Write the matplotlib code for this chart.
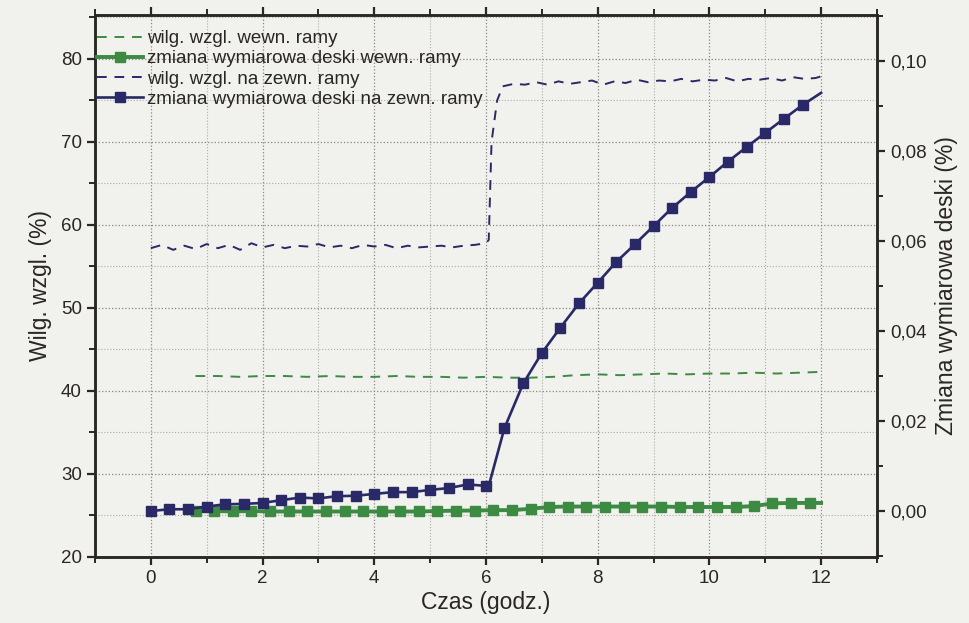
import numpy as np
import matplotlib
matplotlib.use('Agg')
import matplotlib.pyplot as plt
from matplotlib.ticker import MultipleLocator, FuncFormatter

# wilg. wzgl. na zewn. ramy (left axis, %)
t_rh_zew = list(np.round(np.arange(0, 6.01, 0.2), 2)) + [6.05, 6.1, 6.2] + \
    list(np.round(np.arange(6.3, 11.95, 0.2), 2)) + [12.0]
rh_zew = [57.2, 57.6, 57.0, 57.5, 57.1, 57.7, 57.2, 57.6, 57.0, 57.8, 57.3,
          57.6, 57.2, 57.5, 57.4, 57.7, 57.3, 57.5, 57.2, 57.6, 57.4, 57.6,
          57.2, 57.5, 57.3, 57.4, 57.5, 57.3, 57.5, 57.6, 57.8,
          58.2, 70.0, 75.0,
          76.7, 77.0, 76.9, 77.2, 76.9, 77.3, 77.0, 77.2, 77.4, 76.9, 77.3,
          77.1, 77.5, 77.2, 77.4, 77.3, 77.6, 77.3, 77.5, 77.4, 77.7, 77.3,
          77.6, 77.5, 77.7, 77.4, 77.8, 77.6, 77.7,
          77.9]

# wilg. wzgl. wewn. ramy (left axis, %)
t_rh_wew = list(np.round(np.arange(0.8, 12.01, 0.4), 2))
rh_wew = [41.8, 41.8, 41.7, 41.8, 41.8, 41.7, 41.8, 41.7, 41.7, 41.8, 41.7,
          41.7, 41.6, 41.7, 41.6, 41.6, 41.7, 41.9, 42.0, 41.9, 42.0, 42.1,
          42.0, 42.1, 42.1, 42.2, 42.1, 42.2, 42.3]

# zmiana wymiarowa deski na zewn. ramy (right axis, %)
t_d_zew = [0, 0.33, 0.67, 1.0, 1.33, 1.67, 2.0, 2.33, 2.67, 3.0, 3.33, 3.67,
           4.0, 4.33, 4.67, 5.0, 5.33, 5.67, 6.0, 6.07,
           6.33, 6.67, 7.0, 7.33, 7.67, 8.0, 8.33, 8.67, 9.0, 9.33, 9.67,
           10.0, 10.33, 10.67, 11.0, 11.33, 11.67, 12.0]
d_zew = [0.0000, 0.0004, 0.0004, 0.0010, 0.0015, 0.0016, 0.0018, 0.0024,
         0.0030, 0.0028, 0.0033, 0.0034, 0.0038, 0.0042, 0.0042, 0.0047,
         0.0051, 0.0059, 0.0056, 0.0065,
         0.0184, 0.0284, 0.0351, 0.0407, 0.0462, 0.0507, 0.0553, 0.0593,
         0.0633, 0.0673, 0.0709, 0.0742, 0.0776, 0.0809, 0.0840, 0.0871,
         0.0902, 0.0929]

# zmiana wymiarowa deski wewn. ramy (right axis, %)
t_d_wew = [0.8, 1.13, 1.47, 1.8, 2.13, 2.47, 2.8, 3.13, 3.47, 3.8, 4.13,
           4.47, 4.8, 5.13, 5.47, 5.8, 6.13, 6.47, 6.8, 7.13, 7.47, 7.8,
           8.13, 8.47, 8.8, 9.13, 9.47, 9.8, 10.13, 10.47, 10.8, 11.13,
           11.47, 11.8, 12.0]
d_wew = [0.0000, 0.0000, -0.0001, 0.0000, -0.0001, -0.0001, -0.0001,
         -0.0001, -0.0001, -0.0001, -0.0001, -0.0001, -0.0001, 0.0000,
         0.0001, 0.0001, 0.0002, 0.0002, 0.0005, 0.0009, 0.0010, 0.0010,
         0.0010, 0.0010, 0.0010, 0.0010, 0.0009, 0.0009, 0.0009, 0.0009,
         0.0011, 0.0017, 0.0018, 0.0018, 0.0018]

BLUE = '#2a2968'
GREEN = '#3d8a42'
BG = '#f1f1ed'
INK = '#2a2622'

plt.rcParams['font.family'] = ['Liberation Sans', 'DejaVu Sans']

fig = plt.figure(figsize=(9.69, 6.23), dpi=100, facecolor=BG)
ax = fig.add_axes([0.098, 0.106, 0.807, 0.870], facecolor=BG)
ax2 = ax.twinx()

l1, = ax.plot(t_rh_wew, rh_wew, color=GREEN, lw=1.4, dashes=(5, 4),
              label='wilg. wzgl. wewn. ramy')
l3, = ax.plot(t_rh_zew, rh_zew, color=BLUE, lw=1.4, dashes=(5, 4),
              label='wilg. wzgl. na zewn. ramy')

l2, = ax2.plot(t_d_wew, d_wew, color=GREEN, lw=2.8, marker='s', ms=7,
               markevery=list(range(len(t_d_wew) - 1)),
               label='zmiana wymiarowa deski wewn. ramy')
mk = [i for i in range(len(t_d_zew) - 1) if t_d_zew[i] != 6.07]
l4, = ax2.plot(t_d_zew, d_zew, color=BLUE, lw=1.9, marker='s', ms=7,
               markevery=mk, label='zmiana wymiarowa deski na zewn. ramy')

ax.set_xlim(-1, 13)
ax.set_ylim(20, 85.3)
ax2.set_ylim(-0.0102, 0.1102)

ax.xaxis.set_major_locator(MultipleLocator(2))
ax.xaxis.set_minor_locator(MultipleLocator(1))
ax.yaxis.set_major_locator(MultipleLocator(10))
ax.yaxis.set_minor_locator(MultipleLocator(5))
ax2.yaxis.set_major_locator(MultipleLocator(0.02))
ax2.yaxis.set_minor_locator(MultipleLocator(0.01))
ax2.yaxis.set_major_formatter(FuncFormatter(lambda v, p: ('%.2f' % v).replace('.', ',')))

ax.grid(True, which='major', axis='both', ls=':', color='#8a8580', lw=0.9)
ax.grid(True, which='minor', axis='both', ls=':', color='#b0aca6', lw=0.8)
ax.set_axisbelow(True)

for a in (ax, ax2):
    for s in a.spines.values():
        s.set_linewidth(1.8)
        s.set_color(INK)
ax.tick_params(axis='both', which='major', direction='out', length=6,
               width=1.6, color=INK, labelsize=13.5, labelcolor=INK, top=True)
ax.tick_params(axis='both', which='minor', direction='out', length=4,
               width=1.4, color=INK, top=True)
ax2.tick_params(axis='y', which='major', direction='out', length=6,
                width=1.6, color=INK, labelsize=13.5, labelcolor=INK)
ax2.tick_params(axis='y', which='minor', direction='out', length=4,
                width=1.4, color=INK)

ax.set_xlabel('Czas (godz.)', fontsize=16.5, color=INK, labelpad=3)
ax.set_ylabel('Wilg. wzgl. (%)', fontsize=16.5, color=INK, labelpad=6)
ax2.set_ylabel('Zmiana wymiarowa deski (%)', fontsize=16.5, color=INK,
               labelpad=6)

lgd = ax2.legend(handles=[l1, l2, l3, l4], loc='upper left', frameon=False,
                 fontsize=13.5, handlelength=2.45, handletextpad=0.2,
                 labelspacing=0.16, borderaxespad=0, borderpad=0,
                 bbox_to_anchor=(0.003, 0.972))
for t in lgd.get_texts():
    t.set_color(INK)

fig.savefig('out.png', dpi=100, facecolor=BG)
